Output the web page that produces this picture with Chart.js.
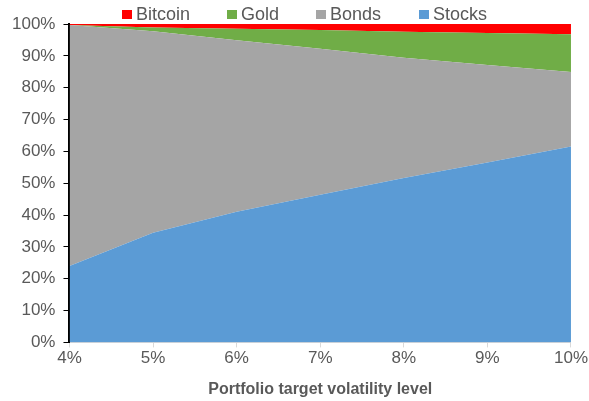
<!DOCTYPE html>
<html>
<head>
<meta charset="utf-8">
<script src="https://cdn.jsdelivr.net/npm/chart.js@4.4.1/dist/chart.umd.min.js"></script>
<style>
  html, body { margin: 0; padding: 0; background: #fff; }
  #wrap { position: relative; width: 589px; height: 401px; }
  #legend {
    position: absolute; top: 4px; left: 0;
    font-family: "Liberation Sans", Arial, sans-serif; font-size: 18px; color: #595959;
  }
  .item { position: absolute; display: flex; align-items: center; white-space: nowrap; }
  .box { width: 10px; height: 9px; margin-right: 4px; }
</style>
</head>
<body>
<div id="wrap">
  <canvas id="chart"></canvas>
  <div id="legend"></div>
</div>
<script>
// target volatility levels
const labels = ['4%', '5%', '6%', '7%', '8%', '9%', '10%'];

// allocations in %
const stocks  = [24.0, 34.4, 41.0, 46.4, 51.6, 56.5, 61.5];
const bonds   = [75.7, 63.3, 53.9, 45.8, 37.8, 30.6, 23.4];
const gold    = [0.0, 1.2, 3.6, 5.9, 8.2, 10.1, 11.9];
const bitcoin = [0.3, 1.1, 1.5, 1.9, 2.4, 2.8, 3.2];

const legendOrder = ['Bitcoin', 'Gold', 'Bonds', 'Stocks'];
const legendLeft = [122, 227, 316, 419];

const FONT = '"Liberation Sans", Arial, sans-serif';
const TXT = '#595959';

function area(label, data, color, fill) {
  return {
    label: label,
    data: data,
    backgroundColor: color,
    borderColor: color,
    borderWidth: 0,
    pointRadius: 0,
    tension: 0,
    fill: fill
  };
}

const chart = new Chart(document.getElementById('chart'), {
  type: 'line',
  data: {
    labels: labels,
    datasets: [
      area('Stocks', stocks, '#5B9BD5', 'origin'),
      area('Bonds', bonds, '#A5A5A5', '-1'),
      area('Gold', gold, '#70AD47', '-1'),
      area('Bitcoin', bitcoin, '#FF0000', '-1')
    ]
  },
  options: {
    responsive: true,
    maintainAspectRatio: false,
    animation: false,
    layout: { padding: { top: 24, right: 1, bottom: 2, left: 4 } },
    plugins: {
      legend: { display: false },
      tooltip: { enabled: false }
    },
    scales: {
      x: {
        offset: false,
        z: 1,
        border: { color: '#D9D9D9', width: 1 },
        grid: { drawOnChartArea: false, color: '#D9D9D9', tickLength: 5 },
        ticks: { color: TXT, font: { family: FONT, size: 17 }, padding: 1, maxRotation: 0 },
        title: {
          display: true,
          text: 'Portfolio target volatility level',
          color: TXT,
          font: { family: FONT, size: 16, weight: 'bold' },
          padding: { top: 10, bottom: 0 }
        }
      },
      y: {
        stacked: true,
        min: 0,
        max: 100,
        z: 1,
        border: { color: '#000', width: 2 },
        grid: { drawOnChartArea: false, color: '#000', tickLength: 6 },
        ticks: {
          stepSize: 10,
          color: TXT,
          font: { family: FONT, size: 17 },
          padding: 8,
          callback: v => v + '%'
        }
      }
    }
  }
});

// html legend, same order as the picture
const legend = document.getElementById('legend');
legendOrder.forEach((name, i) => {
  const ds = chart.data.datasets.find(d => d.label === name);
  legend.innerHTML += `<div class="item" style="left:${legendLeft[i]}px"><span class="box" style="background:${ds.backgroundColor}"></span>${name}</div>`;
});
</script>
</body>
</html>
